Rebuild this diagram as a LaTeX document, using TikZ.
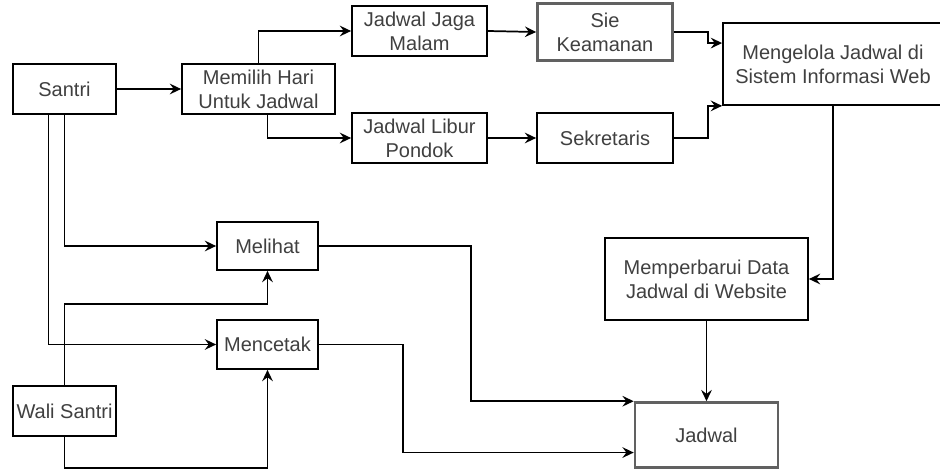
\documentclass[tikz,border=0pt]{standalone}
\usepackage{fontspec}
\setmainfont{Liberation Sans}
\usetikzlibrary{arrows.meta,calc}
\newdimen\px
\px=0.75pt
\begin{document}
\begin{tikzpicture}[x=0.75pt,y=-0.75pt,
  box/.style={draw=black,line width=1.3pt,fill=white,inner sep=0pt,align=center,
    text=black!75,font=\fontsize{15}{18}\selectfont},
  boldbox/.style={box,draw=black!62,line width=1.9pt},
  flow/.style={draw=black,line width=1.3pt,-{Stealth[length=8.5pt,width=8pt,inset=3pt]}},
]
\useasboundingbox (0,0) rectangle (940,470);
\clip (0,0) rectangle (940,470);
\fill[white] (0,0) rectangle (940,470);

% boxes
\node[box,minimum width=103\px,minimum height=50\px] (santri) at (64.5,89) {Santri};
\node[box,minimum width=153\px,minimum height=50\px] (memilih) at (258.5,89) {Memilih Hari\\Untuk Jadwal};
\node[box,minimum width=135\px,minimum height=50\px] (jaga) at (419.5,31) {Jadwal Jaga\\Malam};
\node[boldbox,minimum width=135\px,minimum height=57\px] (sie) at (605,32) {Sie\\Keamanan};
\node[box,minimum width=135\px,minimum height=50\px] (libur) at (419.5,138) {Jadwal Libur\\Pondok};
\node[box,minimum width=136\px,minimum height=50\px] (sekre) at (605,138) {Sekretaris};
\node[box,minimum width=220\px,minimum height=82\px] (kelola) at (833,64) {Mengelola Jadwal di\\Sistem Informasi Web};
\node[box,minimum width=101\px,minimum height=48\px] (melihat) at (267.5,246) {Melihat};
\node[box,minimum width=101\px,minimum height=49\px] (mencetak) at (267.5,344.5) {Mencetak};
\node[box,minimum width=103\px,minimum height=50\px] (wali) at (64.5,411) {Wali Santri};
\node[box,minimum width=203\px,minimum height=82\px] (perbarui) at (706.5,279) {Memperbarui Data\\Jadwal di Website};
\node[boldbox,minimum width=143\px,minimum height=65\px] (jadwal) at (706.5,435) {Jadwal};

% connectors
\draw[flow] (santri.east) -- (memilih.west);
\draw[flow] (memilih.north) |- (jaga.west);
\draw[flow] ([xshift=9\px]memilih.south) |- (libur.west);
\draw[flow] (jaga.east) -- (sie.west);
\draw[flow] (libur.east) -- (sekre.west);
\draw[flow] (sie.east) -- ++(34,0) |- ($(kelola.north west)!0.25!(kelola.south west)$);
\draw[flow] (sekre.east) -- ++(34,0) |- (kelola.south west);
\draw[flow] (kelola.south) |- (perbarui.east);
\draw[flow] (perbarui.south) -- (jadwal.north);
\draw[flow] (melihat.east) -- ++(152,0) |- (jadwal.north west);
\draw[flow] (mencetak.east) -- ++(84,0) |- ($(jadwal.north west)!0.76!(jadwal.south west)$);
\draw[flow] (santri.south) |- (melihat.west);
\draw[flow] ([xshift=-16\px]santri.south) |- (mencetak.west);
\coordinate (wm) at (267.5,304);
\draw[flow] (wali.north) |- (wm) -- (melihat.south);
\draw[flow] (wali.south) -- ++(0,31) -| (mencetak.south);
\end{tikzpicture}
\end{document}
